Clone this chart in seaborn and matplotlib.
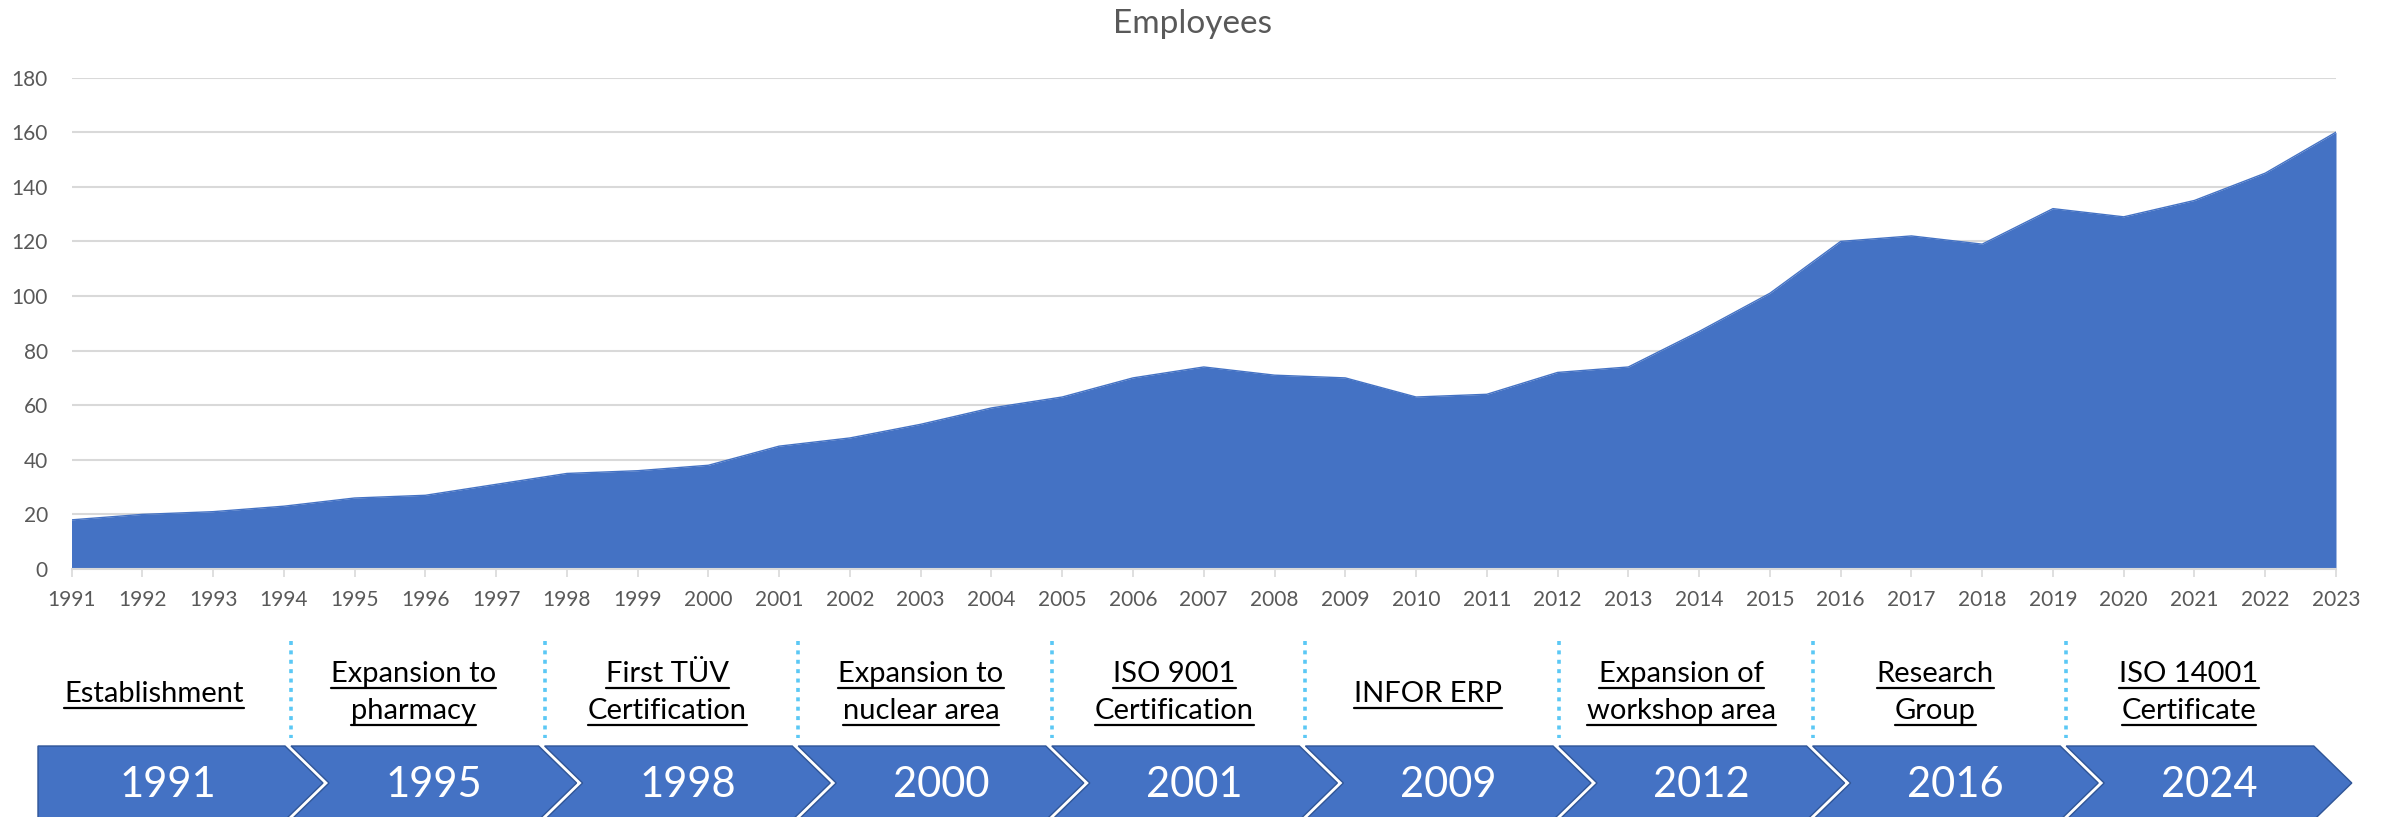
import matplotlib
matplotlib.use("Agg")
import matplotlib.pyplot as plt
from matplotlib.patches import Polygon
import seaborn as sns
import pandas as pd

# employee numbers per year
years = list(range(1991, 2024))
employees = [18, 20, 21, 23, 26, 27, 31, 35, 36, 38, 45, 48, 53, 59, 63, 70, 74,
             71, 70, 63, 64, 72, 74, 87, 101, 120, 122, 119, 132, 129, 135, 145, 160]

# timeline milestones
milestone_years = ['1991', '1995', '1998', '2000', '2001', '2009', '2012', '2016', '2024']
milestone_labels = ['Establishment', 'Expansion to\npharmacy', 'First TÜV\nCertification',
                    'Expansion to\nnuclear area', 'ISO 9001\nCertification', 'INFOR ERP',
                    'Expansion of\nworkshop area', 'Research\nGroup', 'ISO 14001\nCertificate']

df = pd.DataFrame({'year': years, 'employees': employees})

sns.set_theme(style="white")
plt.rcParams['font.family'] = ['Lato', 'DejaVu Sans']

W, H = 2387, 817
fig = plt.figure(figsize=(W / 100, H / 100), dpi=100)

# overlay axes in pixel coords (y down) for the timeline
ov = fig.add_axes([0, 0, 1, 1])
ov.set_xlim(0, W)
ov.set_ylim(H, 0)
ov.axis('off')
ov.patch.set_alpha(0)

blue = '#4472C4'

# area chart
ax = fig.add_axes([71.5 / W, (H - 569) / H, (2336 - 71.5) / W, (569 - 77.6) / H])
ax.fill_between(df['year'], df['employees'], 0, color=blue, lw=0, zorder=2)
sns.lineplot(data=df, x='year', y='employees', ax=ax, color=blue, lw=1, zorder=3)
ax.set_xlim(1991, 2023)
ax.set_ylim(0, 180)
ax.set_yticks(range(0, 181, 20))
ax.set_xticks(years)
ax.yaxis.grid(True, color='#D9D9D9', lw=1.5, zorder=0)
ax.set_axisbelow(True)
for s in ['top', 'right', 'left']:
    ax.spines[s].set_visible(False)
ax.spines['bottom'].set_color('#D9D9D9')
ax.spines['bottom'].set_linewidth(1.5)
ax.spines['bottom'].set_zorder(4)
ax.tick_params(axis='x', length=6, width=1.2, color='#D9D9D9', labelsize=15,
               labelcolor='#595959', pad=9, bottom=True)
ax.tick_params(axis='y', length=0, labelsize=15, labelcolor='#595959', pad=17)
ax.set_xlabel('')
ax.set_ylabel('')
fig.text(1192 / W, 1 - 24 / H, 'Employees', ha='center', va='center',
         fontsize=24, color='#595959')

# timeline chevrons
P = 253.6
sep0 = 291
top, mid, bot = 746, 783, 820
d = 38
seps = [sep0 + k * P for k in range(len(milestone_years) - 1)]

for i, (yr, lab) in enumerate(zip(milestone_years, milestone_labels)):
    L = 38 if i == 0 else sep0 + (i - 1) * P
    R = sep0 + i * P - 6
    if i == 0:
        pts = [(L, top), (R, top), (R + d, mid), (R, bot), (L, bot)]
    else:
        pts = [(L, top), (R, top), (R + d, mid), (R, bot), (L, bot), (L + d, mid)]
    ov.add_patch(Polygon(pts, closed=True, facecolor=blue, edgecolor='#2F5597', lw=1))
    cx = (L + R) / 2 + (d / 2 if i else 6)
    ov.text(cx, mid + 2, yr, ha='center', va='center', color='white', fontsize=30)

# dotted separators between milestones
for x in seps:
    ov.plot([x, x], [641, 738], color='#5BC8F5', lw=2.6, linestyle=(0, (1.1, 1.5)))

# milestone labels with underline
renderer = fig.canvas.get_renderer()
for i, lab in enumerate(milestone_labels):
    if i == 0:
        cx = 154
    else:
        cx = (seps[i - 1] + (seps[i] if i < len(seps) else seps[-1] + P)) / 2 - 4
    lines = lab.split('\n')
    baselines = [702] if len(lines) == 1 else [682, 719]
    for line, by in zip(lines, baselines):
        t = ov.text(cx, by, line, ha='center', va='baseline', fontsize=21, color='black')
        bb = t.get_window_extent(renderer=renderer)
        ov.plot([bb.x0, bb.x1], [by + 5.5, by + 5.5], color='black', lw=1.6)

fig.savefig('out.png', dpi=100)
